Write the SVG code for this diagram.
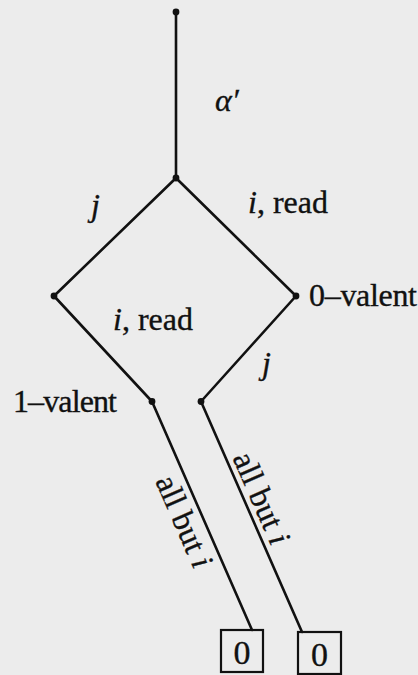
<svg xmlns="http://www.w3.org/2000/svg" width="418" height="675" viewBox="0 0 418 675">
<style>
.e{stroke:#111;stroke-width:2.6;fill:none;stroke-linecap:round}
.d{fill:#111}
.t{font-family:"Liberation Serif","Times New Roman",serif;font-size:32px;fill:#111;stroke:#111;stroke-width:0.35}
.it{font-style:italic}
.box{fill:none;stroke:#111;stroke-width:2.2}
.z{font-size:34px}
</style>
<rect width="418" height="675" fill="#ececec"/>
<g id="connectors">
<line class="e" x1="176" y1="12" x2="176" y2="178"/>
<line class="e" x1="176" y1="178" x2="54" y2="296"/>
<line class="e" x1="176" y1="178" x2="296" y2="296"/>
<line class="e" x1="54" y1="296" x2="152" y2="401.5"/>
<line class="e" x1="296" y1="296" x2="201" y2="401.5"/>
<line class="e" x1="152" y1="401.5" x2="252" y2="630"/>
<line class="e" x1="201" y1="401.5" x2="302" y2="632"/>
</g>
<g id="n-top"><circle class="d" cx="176" cy="12" r="3.4"/></g>
<g id="n-root"><circle class="d" cx="176" cy="178" r="3.4"/></g>
<g id="n-left"><circle class="d" cx="54" cy="296" r="3.4"/></g>
<g id="n-right"><circle class="d" cx="296" cy="296" r="3.4"/><text class="t" x="309" y="306" textLength="108">0–valent</text></g>
<g id="n-1valent"><circle class="d" cx="152" cy="401.5" r="3.4"/><text class="t" x="13" y="412" textLength="104">1–valent</text></g>
<g id="n-j"><circle class="d" cx="201" cy="401.5" r="3.4"/></g>
<g id="n-box1"><rect class="box" x="221" y="630" width="42" height="42"/><text class="t z" x="242" y="664" text-anchor="middle">0</text></g>
<g id="n-box2"><rect class="box" x="298" y="632" width="43" height="42"/><text class="t z" x="319.5" y="666" text-anchor="middle">0</text></g>
<g id="labels">
<text class="t it" x="215" y="111">α′</text>
<text class="t it" x="91" y="216">j</text>
<text class="t" x="248" y="213"><tspan class="it">i</tspan>, read</text>
<text class="t" x="113" y="330"><tspan class="it">i</tspan>, read</text>
<text class="t it" x="262" y="374">j</text>
<text class="t" transform="translate(152,401.5) rotate(66.4)" x="74" y="29">all but <tspan class="it">i</tspan></text>
<text class="t" transform="translate(201,401.5) rotate(66.3)" x="64" y="-6">all but <tspan class="it">i</tspan></text>
</g>
</svg>
